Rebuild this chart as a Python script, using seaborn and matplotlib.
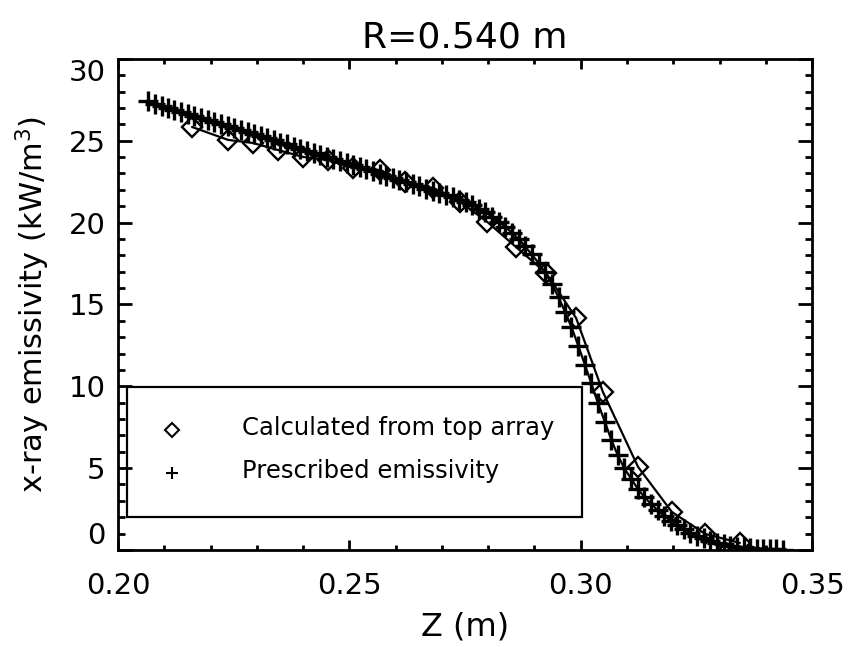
import numpy as np
import pandas as pd
import matplotlib
matplotlib.use("Agg")
import matplotlib.pyplot as plt
import seaborn as sns
from matplotlib.patches import Rectangle
from matplotlib.ticker import MultipleLocator

# ---- data ----
calc_z = [0.2160, 0.2238, 0.2292, 0.2346, 0.2400, 0.2454, 0.2508, 0.2566,
          0.2620, 0.2681, 0.2739, 0.2798, 0.2860, 0.2925, 0.2990, 0.3048,
          0.3124, 0.3197, 0.3269, 0.3344]
calc_e = [25.84, 25.05, 24.86, 24.43, 24.01, 23.82, 23.34, 23.21,
          22.48, 22.11, 21.28, 20.04, 18.51, 16.92, 14.17, 9.65,
          5.07, 2.32, 0.98, 0.43]

pres_z = [0.2065, 0.2079, 0.2094, 0.2108, 0.2122, 0.2137, 0.2151, 0.2165,
          0.2179, 0.2194, 0.2208, 0.2222, 0.2237, 0.2251, 0.2265, 0.2280,
          0.2294, 0.2308, 0.2322, 0.2337, 0.2351, 0.2365, 0.2380, 0.2394,
          0.2408, 0.2423, 0.2437, 0.2451, 0.2465, 0.2480, 0.2494, 0.2508,
          0.2523, 0.2537, 0.2551, 0.2566, 0.2580, 0.2594, 0.2608, 0.2623,
          0.2637, 0.2651, 0.2666, 0.2680, 0.2694, 0.2709, 0.2723, 0.2737,
          0.2751, 0.2766, 0.2780, 0.2794, 0.2809, 0.2823, 0.2837, 0.2852,
          0.2866, 0.2880, 0.2894, 0.2909, 0.2923, 0.2937, 0.2952, 0.2966,
          0.2980, 0.2995, 0.3009, 0.3023, 0.3037, 0.3052, 0.3066, 0.3080,
          0.3094, 0.3109, 0.3123, 0.3137, 0.3152, 0.3166, 0.3180, 0.3195,
          0.3209, 0.3223, 0.3237, 0.3252, 0.3266, 0.3280, 0.3295, 0.3309,
          0.3323, 0.3337, 0.3352, 0.3366, 0.3380, 0.3395, 0.3409, 0.3423,
          0.3437]
pres_e = [27.40, 27.27, 27.15, 27.02, 26.90, 26.77, 26.65, 26.52,
          26.40, 26.27, 26.14, 26.02, 25.89, 25.77, 25.64, 25.52,
          25.39, 25.27, 25.14, 25.02, 24.89, 24.77, 24.64, 24.52,
          24.39, 24.26, 24.14, 24.01, 23.89, 23.76, 23.64, 23.51,
          23.38, 23.25, 23.12, 22.99, 22.86, 22.73, 22.60, 22.47,
          22.34, 22.21, 22.08, 21.95, 21.82, 21.68, 21.54, 21.39,
          21.23, 21.05, 20.85, 20.62, 20.36, 20.06, 19.73, 19.37,
          18.97, 18.54, 18.06, 17.53, 16.95, 16.25, 15.45, 14.55,
          13.62, 12.45, 11.32, 10.17, 8.99, 7.84, 6.74, 5.79,
          5.00, 4.35, 3.75, 3.25, 2.82, 2.43, 2.08, 1.77,
          1.50, 1.26, 1.05, 0.87, 0.71, 0.57, 0.45, 0.35,
          0.27, 0.20, 0.15, 0.11, 0.08, 0.06, 0.04, 0.03,
          0.02]

title = "R=0.540 m"
xlabel = "Z (m)"
ylabel = r"x-ray emissivity (kW/m$^3$)"
legend_labels = ["Calculated from top array", "Prescribed emissivity"]
xticks = [0.20, 0.25, 0.30, 0.35]
xtick_labels = ["0.20", "0.25", "0.30", "0.35"]
yticks = [0, 5, 10, 15, 20, 25, 30]

calc_df = pd.DataFrame({"z": calc_z, "e": calc_e})
pres_df = pd.DataFrame({"z": pres_z, "e": pres_e})

# ---- style ----
sns.set_style("ticks")
plt.rcParams["font.family"] = ["DejaVu Sans"]
plt.rcParams["mathtext.fontset"] = "dejavusans"
for k in ["text.color", "axes.labelcolor", "xtick.color", "ytick.color",
          "axes.edgecolor"]:
    plt.rcParams[k] = "black"

fig = plt.figure(figsize=(8.49, 6.47), dpi=100)
ax = fig.add_axes([0.139, 0.150, 0.8175, 0.759])

sns.lineplot(data=pres_df, x="z", y="e", ax=ax, color="black", estimator=None,
             sort=False, linewidth=1.6, marker="+", markersize=14,
             markeredgewidth=2.4, markeredgecolor="black")
sns.lineplot(data=calc_df, x="z", y="e", ax=ax, color="black", estimator=None,
             sort=False, linewidth=1.6, marker="D", markersize=10.5,
             markerfacecolor="none", markeredgewidth=1.7,
             markeredgecolor="black")

ax.set_xlim(0.20, 0.35)
ax.set_ylim(0, 30)
ax.set_xticks(xticks)
ax.set_xticklabels(xtick_labels)
ax.set_yticks(yticks)
ax.xaxis.set_minor_locator(MultipleLocator(0.01))
ax.yaxis.set_minor_locator(MultipleLocator(1))

for sp in ax.spines.values():
    sp.set_linewidth(2.0)
    sp.set_color("black")
    sp.set_visible(True)

ax.tick_params(axis="both", which="both", direction="in", top=True,
               right=True, color="black", width=2.0)
ax.tick_params(axis="y", which="major", length=10, pad=9, labelsize=21)
ax.tick_params(axis="y", which="minor", length=5)
ax.tick_params(axis="x", which="major", length=7, pad=16, labelsize=21)
ax.tick_params(axis="x", which="minor", length=3.6)

# IDL-style clamping of extreme y labels
ylabs = ax.get_yticklabels()
ylabs[0].set_va("bottom")
ylabs[-1].set_va("top")

ax.set_title(title, fontsize=26, pad=8)
ax.set_xlabel(xlabel, fontsize=23, labelpad=8)
ax.set_ylabel(ylabel, fontsize=22, labelpad=12)

# legend box as in the reference
ax.add_patch(Rectangle((0.013, 0.067), 0.656, 0.265, transform=ax.transAxes,
                       fill=False, edgecolor="black", linewidth=1.6,
                       zorder=5))
ax.plot([0.078], [0.244], transform=ax.transAxes, marker="D", markersize=7,
        markerfacecolor="none", markeredgecolor="black",
        markeredgewidth=1.5, linestyle="none", zorder=6)
ax.plot([0.078], [0.157], transform=ax.transAxes, marker="+", markersize=9,
        markeredgecolor="black", markeredgewidth=1.5, linestyle="none",
        zorder=6)
ax.text(0.179, 0.248, legend_labels[0], transform=ax.transAxes,
        fontsize=17.5, va="center", ha="left")
ax.text(0.179, 0.161, legend_labels[1], transform=ax.transAxes,
        fontsize=17.5, va="center", ha="left")

fig.savefig("out.png", dpi=100, facecolor="white")
